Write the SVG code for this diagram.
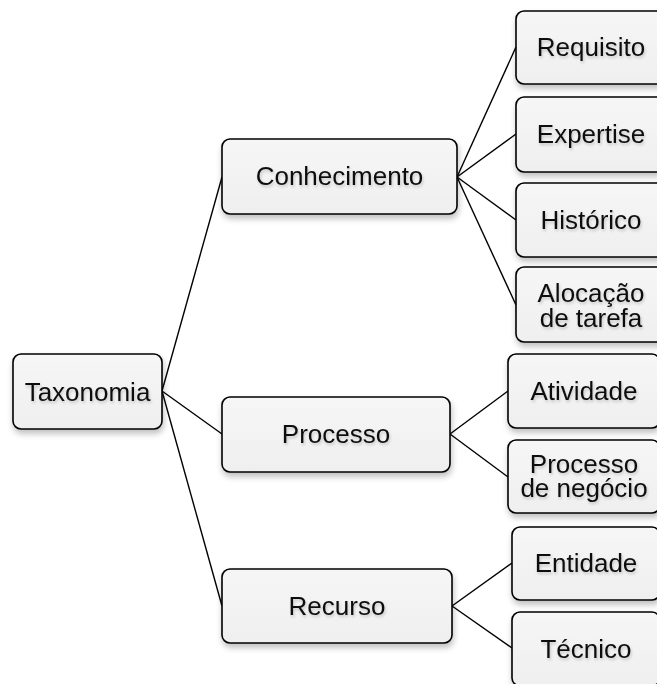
<svg xmlns="http://www.w3.org/2000/svg" width="657" height="684" viewBox="0 0 657 684">
<defs>
<filter id="sh" x="-10%" y="-10%" width="125%" height="140%">
<feGaussianBlur in="SourceAlpha" stdDeviation="3"/>
<feOffset dx="1" dy="4" result="b"/>
<feComponentTransfer><feFuncA type="linear" slope="0.25"/></feComponentTransfer>
<feMerge><feMergeNode/><feMergeNode in="SourceGraphic"/></feMerge>
</filter>
<filter id="tsh" x="-10%" y="-20%" width="120%" height="160%">
<feGaussianBlur in="SourceAlpha" stdDeviation="1.5"/>
<feOffset dx="1" dy="2"/>
<feComponentTransfer><feFuncA type="linear" slope="0.2"/></feComponentTransfer>
<feMerge><feMergeNode/><feMergeNode in="SourceGraphic"/></feMerge>
</filter>
<linearGradient id="g" x1="0" y1="0" x2="0" y2="1">
<stop offset="0" stop-color="#f6f6f6"/>
<stop offset="1" stop-color="#efefef"/>
</linearGradient>
</defs>
<style>
.box{fill:url(#g);stroke:#000;stroke-width:1.6;filter:url(#sh)}
.t{font-family:"Liberation Sans",Arial,sans-serif;font-size:26px;fill:#111;text-anchor:middle;filter:url(#tsh)}
.c{stroke:#000;stroke-width:1.4;fill:none}
</style>
<rect width="657" height="684" fill="#fff"/>
<g id="connectors">
<line class="c" x1="162" y1="391" x2="222" y2="177"/>
<line class="c" x1="162" y1="391" x2="222" y2="434"/>
<line class="c" x1="162" y1="391" x2="222" y2="606"/>
<line class="c" x1="457" y1="177" x2="516" y2="47"/>
<line class="c" x1="457" y1="177" x2="516" y2="134"/>
<line class="c" x1="457" y1="177" x2="516" y2="220"/>
<line class="c" x1="457" y1="177" x2="516" y2="305"/>
<line class="c" x1="450" y1="434" x2="508" y2="391"/>
<line class="c" x1="450" y1="434" x2="508" y2="477"/>
<line class="c" x1="452" y1="606" x2="512" y2="563"/>
<line class="c" x1="452" y1="606" x2="512" y2="648"/>
</g>
<g id="taxonomia"><rect class="box" x="13" y="354" width="149" height="75" rx="8"/><text class="t" x="87.5" y="400.5">Taxonomia</text></g>
<g id="conhecimento"><rect class="box" x="222" y="139" width="235" height="75" rx="8"/><text class="t" x="339.5" y="185">Conhecimento</text></g>
<g id="processo"><rect class="box" x="222" y="397" width="228" height="75" rx="8"/><text class="t" x="336" y="443">Processo</text></g>
<g id="recurso"><rect class="box" x="222" y="569" width="230" height="74" rx="8"/><text class="t" x="337" y="615">Recurso</text></g>
<g id="requisito"><rect class="box" x="516" y="11" width="150" height="73" rx="8"/><text class="t" x="591" y="56">Requisito</text></g>
<g id="expertise"><rect class="box" x="516" y="97" width="150" height="75" rx="8"/><text class="t" x="591" y="143">Expertise</text></g>
<g id="historico"><rect class="box" x="516" y="183" width="150" height="74" rx="8"/><text class="t" x="591" y="229">Histórico</text></g>
<g id="alocacao"><rect class="box" x="516" y="267" width="150" height="75" rx="8"/><text class="t" x="591" y="301.5">Alocação<tspan x="591" dy="25">de tarefa</tspan></text></g>
<g id="atividade"><rect class="box" x="508" y="354" width="152" height="74" rx="8"/><text class="t" x="584" y="400">Atividade</text></g>
<g id="processo-negocio"><rect class="box" x="508" y="440" width="152" height="73" rx="8"/><text class="t" x="584" y="472.5">Processo<tspan x="584" dy="24.5">de negócio</tspan></text></g>
<g id="entidade"><rect class="box" x="512" y="527" width="148" height="73" rx="8"/><text class="t" x="586" y="572">Entidade</text></g>
<g id="tecnico"><rect class="box" x="512" y="612" width="148" height="74" rx="8"/><text class="t" x="586" y="658">Técnico</text></g>
</svg>
